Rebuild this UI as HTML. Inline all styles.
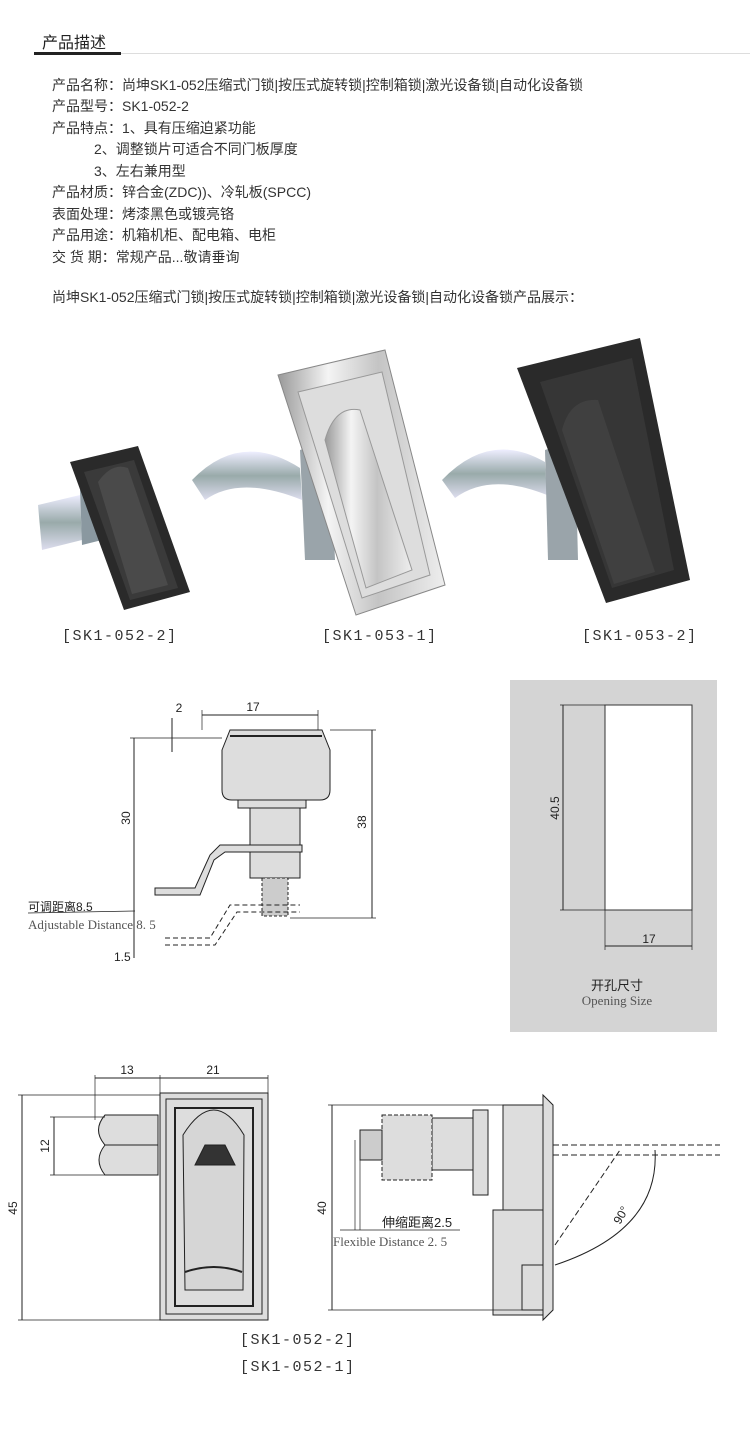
<!DOCTYPE html>
<html><head><meta charset="utf-8">
<style>
html,body{margin:0;padding:0;background:#fff;}
body{width:750px;height:1435px;position:relative;overflow:hidden;font-family:"Liberation Sans","Noto Sans CJK SC",sans-serif;color:#333;}
.t{position:absolute;left:52px;font-size:14px;line-height:21px;white-space:nowrap;}
</style></head><body>
<div style="position:absolute;left:42px;top:29px;font-size:16px;color:#222;">产品描述</div>
<div style="position:absolute;left:34px;top:52px;width:87px;height:3px;background:#222;"></div>
<div style="position:absolute;left:121px;top:53px;width:629px;height:1px;background:#ddd;"></div>
<div class="t" style="top:75px">产品名称：尚坤SK1-052压缩式门锁|按压式旋转锁|控制箱锁|激光设备锁|自动化设备锁</div>
<div class="t" style="top:96px">产品型号：SK1-052-2</div>
<div class="t" style="top:118px">产品特点：1、具有压缩迫紧功能</div>
<div class="t" style="top:139px;left:94px">2、调整锁片可适合不同门板厚度</div>
<div class="t" style="top:161px;left:94px">3、左右兼用型</div>
<div class="t" style="top:182px">产品材质：锌合金(ZDC))、冷轧板(SPCC)</div>
<div class="t" style="top:204px">表面处理：烤漆黑色或镀亮铬</div>
<div class="t" style="top:225px">产品用途：机箱机柜、配电箱、电柜</div>
<div class="t" style="top:247px">交 货 期：常规产品...敬请垂询</div>
<div class="t" style="top:287px">尚坤SK1-052压缩式门锁|按压式旋转锁|控制箱锁|激光设备锁|自动化设备锁产品展示：</div>

<svg width="750" height="1435" style="position:absolute;left:0;top:0" font-family="Liberation Sans, Noto Sans CJK SC, sans-serif">
<defs>
<linearGradient id="ch" x1="0" x2="1"><stop offset="0" stop-color="#999"/><stop offset=".3" stop-color="#f4f4f4"/><stop offset=".6" stop-color="#c4c4c4"/><stop offset="1" stop-color="#eee"/></linearGradient>
<linearGradient id="cam" x1="0" x2="0" y1="0" y2="1"><stop offset="0" stop-color="#eef"/><stop offset=".5" stop-color="#9aa"/><stop offset="1" stop-color="#dde"/></linearGradient>
</defs>
<!-- photo 1 -->
<path d="M38 505 L80 495 L82 540 L42 550 Z" fill="url(#cam)"/>
<path d="M80 490 L100 486 L102 540 L82 545 Z" fill="#8a98a0"/>
<path d="M70 462 L138 446 L190 592 L124 610 Z" fill="#2a2a2a"/>
<path d="M84 472 L134 460 L178 588 L130 600 Z" fill="#3a3a3a"/>
<path d="M98 482 Q112 462 128 468 L168 585 L132 594 Z" fill="#4a4a4a"/>
<!-- photo 2 -->
<path d="M192 480 Q240 430 300 468 L302 500 Q240 475 205 500 Z" fill="url(#cam)"/>
<path d="M300 450 L330 440 L335 560 L305 560 Z" fill="#9aa4aa"/>
<path d="M278 375 L385 350 L445 585 L356 615 Z" fill="url(#ch)" stroke="#888"/>
<path d="M298 392 L382 372 L430 575 L362 598 Z" fill="#ddd" stroke="#999"/>
<path d="M325 440 Q335 405 360 410 L412 570 L366 588 Z" fill="url(#ch)" stroke="#999"/>
<!-- photo 3 -->
<path d="M442 480 Q490 430 545 462 L547 495 Q490 472 455 498 Z" fill="url(#cam)"/>
<path d="M545 450 L575 440 L578 560 L548 560 Z" fill="#9aa4aa"/>
<path d="M517 368 L640 338 L690 580 L606 603 Z" fill="#2a2a2a"/>
<path d="M540 382 L632 358 L674 570 L612 588 Z" fill="#363636"/>
<path d="M562 430 Q570 398 598 400 L655 572 L614 584 Z" fill="#404040"/>
<g font-family="Liberation Mono, monospace" font-size="15" fill="#333" letter-spacing="1.5">
<text x="62" y="640">[SK1-052-2]</text>
<text x="322" y="640">[SK1-053-1]</text>
<text x="582" y="640">[SK1-053-2]</text>
</g>
<!-- drawing side view -->
<g stroke="#222" fill="none" stroke-width="1">
<path d="M222 750 L230 730 L322 730 L330 750 L330 790 Q330 800 320 800 L232 800 Q222 800 222 790 Z" fill="#ddd"/>
<line x1="230" y1="736" x2="322" y2="736" stroke-width="2"/>
<rect x="238" y="800" width="68" height="8" fill="#ddd"/>
<rect x="250" y="808" width="50" height="70" fill="#ddd"/>
<rect x="262" y="878" width="26" height="38" fill="#ccc" stroke-dasharray="3 2"/>
<path d="M155 888 L195 888 L210 855 L220 845 L302 845 L302 852 L225 852 L214 860 L200 895 L155 895 Z" fill="#ddd"/>
<path d="M165 938 L210 938 L230 905 L300 905 M165 945 L215 945 L237 912 L300 912" stroke-dasharray="5 3"/>
<line x1="202" y1="715" x2="318" y2="715"/><line x1="202" y1="710" x2="202" y2="730" stroke-width=".7"/><line x1="318" y1="710" x2="318" y2="730" stroke-width=".7"/>
<line x1="134" y1="738" x2="134" y2="958"/><line x1="130" y1="738" x2="222" y2="738" stroke-width=".7"/>
<line x1="372" y1="730" x2="372" y2="918"/><line x1="330" y1="730" x2="376" y2="730" stroke-width=".7"/><line x1="290" y1="918" x2="376" y2="918" stroke-width=".7"/>
<line x1="172" y1="718" x2="172" y2="752"/>
<line x1="28" y1="913" x2="135" y2="911" stroke-width=".7"/>
</g>
<g font-size="12" fill="#222">
<text x="253" y="711" text-anchor="middle">17</text>
<text x="179" y="712" text-anchor="middle">2</text>
<text x="130" y="818" transform="rotate(-90 130 818)" text-anchor="middle">30</text>
<text x="366" y="822" transform="rotate(-90 366 822)" text-anchor="middle">38</text>
<text x="28" y="911">可调距离8.5</text>
<text x="28" y="929" font-family="Liberation Serif, serif" font-size="13" fill="#555">Adjustable Distance 8. 5</text>
<text x="114" y="961">1.5</text>
</g>
<!-- opening size -->
<rect x="510" y="680" width="207" height="352" fill="#d4d4d4"/>
<rect x="605" y="705" width="87" height="205" fill="#fff" stroke="#333"/>
<g stroke="#222" fill="none"><line x1="563" y1="705" x2="563" y2="910"/><line x1="560" y1="705" x2="605" y2="705" stroke-width=".7"/><line x1="560" y1="910" x2="605" y2="910" stroke-width=".7"/>
<line x1="605" y1="910" x2="605" y2="950" stroke-width=".7"/><line x1="692" y1="910" x2="692" y2="950" stroke-width=".7"/><line x1="605" y1="946" x2="692" y2="946"/></g>
<text x="559" y="808" font-size="12" transform="rotate(-90 559 808)" text-anchor="middle" fill="#222">40.5</text>
<text x="649" y="943" font-size="12" text-anchor="middle" fill="#222">17</text>
<text x="617" y="990" font-size="13" text-anchor="middle" fill="#222">开孔尺寸</text>
<text x="617" y="1005" font-size="13" font-family="Liberation Serif, serif" text-anchor="middle" fill="#555">Opening Size</text>
<!-- front view -->
<g stroke="#222" fill="none">
<path d="M105 1145 L158 1145 L158 1175 L105 1175 Q93 1160 105 1145 Z M105 1145 Q92 1130 105 1115 L158 1115 L158 1145" fill="#ddd"/>
<rect x="160" y="1093" width="108" height="227" fill="#ddd"/>
<rect x="166" y="1099" width="96" height="215" fill="#ddd"/>
<rect x="175" y="1108" width="78" height="198" fill="#ddd" stroke-width="2"/>
<path d="M183 1135 Q214 1085 244 1135 L243 1290 L185 1290 Z" fill="#d6d6d6"/>
<path d="M195 1165 L235 1165 L225 1145 L205 1145 Z" fill="#333"/>
<path d="M185 1272 Q214 1262 242 1272" stroke-width="2"/>
<line x1="95" y1="1075" x2="95" y2="1120" stroke-width=".7"/><line x1="160" y1="1075" x2="160" y2="1093" stroke-width=".7"/><line x1="268" y1="1075" x2="268" y2="1093" stroke-width=".7"/>
<line x1="95" y1="1078" x2="268" y2="1078"/>
<line x1="22" y1="1095" x2="22" y2="1320"/><line x1="18" y1="1095" x2="160" y2="1095" stroke-width=".7"/><line x1="18" y1="1320" x2="160" y2="1320" stroke-width=".7"/>
<line x1="54" y1="1117" x2="54" y2="1175"/><line x1="50" y1="1117" x2="105" y2="1117" stroke-width=".7"/><line x1="50" y1="1175" x2="105" y2="1175" stroke-width=".7"/>
</g>
<g font-size="12" fill="#222">
<text x="127" y="1074" text-anchor="middle">13</text><text x="213" y="1074" text-anchor="middle">21</text>
<text x="17" y="1208" transform="rotate(-90 17 1208)" text-anchor="middle">45</text>
<text x="49" y="1146" transform="rotate(-90 49 1146)" text-anchor="middle">12</text>
</g>
<!-- side view 2 -->
<g stroke="#222" fill="none">
<path d="M543 1095 L553 1105 L553 1310 L543 1320 Z" fill="#ddd"/>
<rect x="503" y="1105" width="40" height="105" fill="#ddd"/>
<rect x="493" y="1210" width="50" height="105" fill="#ddd"/>
<rect x="522" y="1265" width="21" height="45" fill="#ddd"/>
<rect x="473" y="1110" width="15" height="85" fill="#ddd"/>
<rect x="432" y="1118" width="41" height="52" fill="#ddd"/>
<rect x="382" y="1115" width="50" height="65" fill="#ddd" stroke-dasharray="4 2"/>
<rect x="360" y="1130" width="22" height="30" fill="#ccc"/>
<path d="M553 1145 L720 1145 M553 1155 L720 1155" stroke-dasharray="6 3"/>
<line x1="555" y1="1245" x2="620" y2="1150" stroke-dasharray="6 3"/>
<path d="M655 1150 Q660 1230 555 1265"/>
<line x1="332" y1="1105" x2="332" y2="1310"/><line x1="328" y1="1105" x2="503" y2="1105" stroke-width=".7"/><line x1="328" y1="1310" x2="522" y2="1310" stroke-width=".7"/>
<line x1="355" y1="1140" x2="355" y2="1230" stroke-width=".7"/><line x1="360" y1="1140" x2="360" y2="1230" stroke-width=".7"/>
<line x1="340" y1="1230" x2="460" y2="1230" stroke-width=".7"/>
</g>
<g font-size="12" fill="#222">
<text x="326" y="1208" transform="rotate(-90 326 1208)" text-anchor="middle">40</text>
<text x="382" y="1227" font-size="13">伸缩距离2.5</text>
<text x="333" y="1246" font-family="Liberation Serif, serif" font-size="13" fill="#555">Flexible Distance 2. 5</text>
<text x="620" y="1225" transform="rotate(-60 620 1225)">90°</text>
</g>
<g font-family="Liberation Mono, monospace" font-size="15" fill="#333" letter-spacing="1.5">
<text x="240" y="1344">[SK1-052-2]</text>
<text x="240" y="1371">[SK1-052-1]</text>
</g>
</svg>
</body></html>
